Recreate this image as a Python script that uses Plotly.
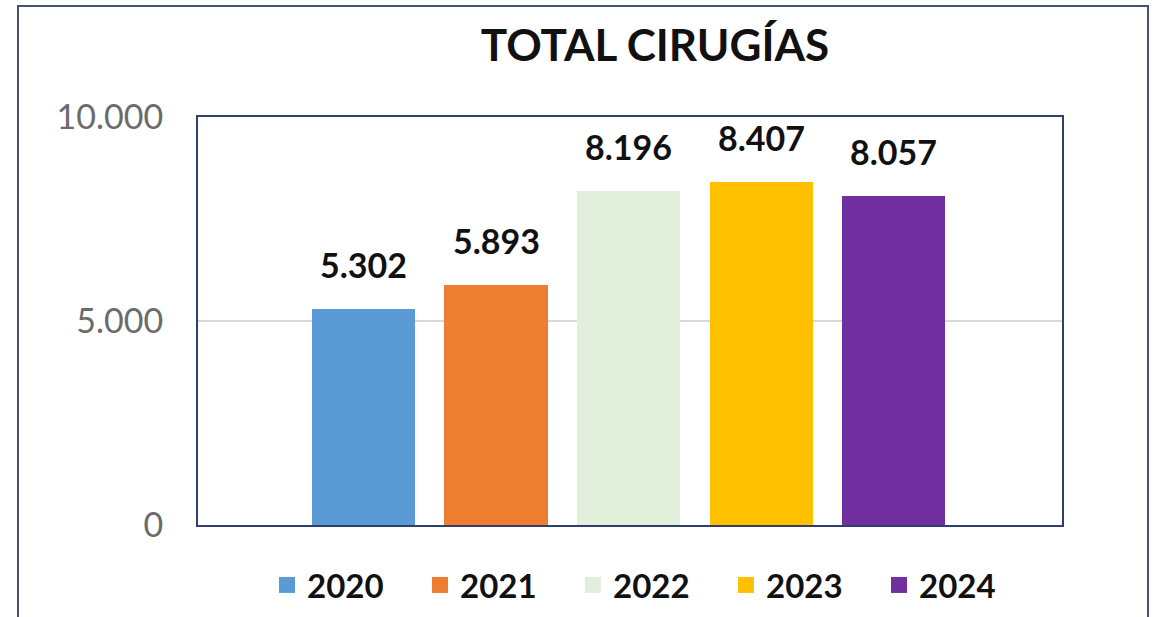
import plotly.graph_objects as go

years = ["2020", "2021", "2022", "2023", "2024"]
values = [5302, 5893, 8196, 8407, 8057]
labels = ["5.302", "5.893", "8.196", "8.407", "8.057"]
colors = ["#5B9BD5", "#ED7D31", "#E2EFDA", "#FFC000", "#7030A0"]
tick_vals = [0, 5000, 10000]
tick_text = ["0", "5.000", "10.000"]

W, H = 1153, 617
L, R, T, B = 198, 1062, 117, 525
pw, ph = R - L, B - T

def px_x(p):
    return (p - L) / pw

def px_y(p):
    return (B - p) / ph

fig = go.Figure()
pos = list(range(len(years)))
for i, (yr, v, c) in enumerate(zip(years, values, colors)):
    fig.add_trace(go.Bar(x=[pos[i]], y=[v], marker=dict(color=c, line=dict(width=0)),
                         width=0.78, showlegend=False, hoverinfo="skip"))
    fig.add_annotation(x=pos[i], y=v, text=labels[i], showarrow=False,
                       yanchor="bottom", yshift=22,
                       font=dict(family="Lato", size=34, color="#111111", weight="bold"))
for yr, c in zip(years, colors):
    fig.add_trace(go.Scatter(x=[None], y=[None], mode="markers", name=yr,
                             marker=dict(symbol="square", size=16, color=c)))

fig.update_layout(
    width=W, height=H,
    margin=dict(l=L, r=W - R, t=T, b=H - B, autoexpand=False),
    paper_bgcolor="white", plot_bgcolor="white",
    title=dict(text="<b>TOTAL CIRUGÍAS</b>", x=655 / W, xanchor="center",
               y=1 - 46 / H, yanchor="middle",
               font=dict(family="Lato", size=44, color="#111111")),
    showlegend=True,
    legend=dict(orientation="h", x=px_x(267), xanchor="left", y=px_y(585), yanchor="middle",
                entrywidth=108, entrywidthmode="pixels",
                font=dict(family="Lato", size=33, color="#111111", weight="bold"),
                bgcolor="rgba(0,0,0,0)"),
    xaxis=dict(range=[-1.25, 5.27], showticklabels=False, showgrid=False, zeroline=False,
               showline=True, linecolor="#2F3E6B", linewidth=2, mirror=True, ticks=""),
    yaxis=dict(range=[0, 10000], tickvals=tick_vals, ticktext=tick_text,
               showgrid=True, gridcolor="#D9D9D9", gridwidth=2, zeroline=False,
               showline=True, linecolor="#2F3E6B", linewidth=2, mirror=True,
               ticks="", ticklabelstandoff=26,
               tickfont=dict(family="Lato", size=34, color="#6B6B6B")),
    bargap=0,
)

fig.add_shape(type="rect", xref="paper", yref="paper",
              x0=px_x(18), x1=px_x(1148), y0=px_y(640), y1=px_y(6),
              line=dict(color="#44546A", width=2), fillcolor="rgba(0,0,0,0)", layer="below")

fig.write_html("out.html", config={"displayModeBar": False},
               post_script="document.body.style.margin='0px';document.body.style.padding='0px';")
